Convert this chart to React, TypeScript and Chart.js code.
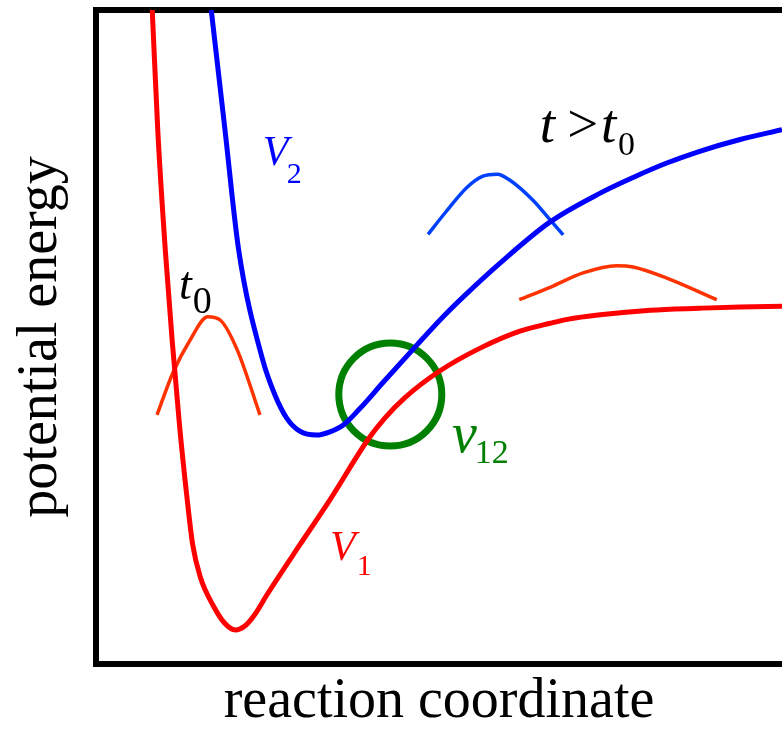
import React, { useEffect, useRef } from "react";
import { Chart, registerables } from "chart.js";

Chart.register(...registerables);

const SERIF = '"Liberation Serif", "Times New Roman", Times, "DejaVu Serif", serif';

// Potential curve V1 (ground state, red)
const v1X = [8.2, 9.0, 10.1, 11.1, 12.2, 13.3, 14.1, 15.2, 17.1, 18.7, 20.3, 21.7, 23.2, 24.9, 29.7, 34.1, 39.7, 42.1, 45.0, 50.1, 56.0, 61.8, 66.2, 68.7, 73.5, 80.8, 88.0, 93.9, 100];
const v1Y = [100, 81.7, 63.3, 49.5, 36.2, 25.1, 18.2, 13.3, 8.9, 6.3, 5.2, 5.8, 7.65, 10.55, 18.2, 25.1, 34.4, 37.6, 40.7, 44.8, 48.3, 50.9, 52.1, 52.7, 53.4, 54.1, 54.4, 54.6, 54.7];

// Potential curve V2 (excited state, blue)
const v2X = [16.8, 18.8, 20.8, 24.3, 26.1, 27.8, 29.7, 32.2, 34.1, 36.0, 38.5, 41.8, 46.8, 50.6, 53.5, 58.9, 66.2, 73.5, 78.3, 83.2, 88.0, 93.9, 100];
const v2Y = [100, 81.7, 63.3, 46.5, 41.1, 37.6, 35.6, 35.0, 35.5, 36.5, 39.1, 43.0, 48.8, 53.1, 56.1, 61.3, 67.6, 72.0, 74.4, 76.6, 78.4, 80.2, 81.7];

// Wave packet at t0 (on V1)
const packet0X = [8.9, 11.2, 13.7, 16.3, 18.1, 20.6, 23.9];
const packet0Y = [38.1, 44.5, 49.5, 53.1, 52.6, 48.0, 38.1];

// Wave packet at t > t0 on V2
const packetBlueX = [48.4, 50.9, 54.1, 56.4, 58.5, 60.3, 63.7, 66.2, 68.1];
const packetBlueY = [65.7, 69.0, 72.9, 74.6, 74.9, 74.0, 70.9, 67.9, 65.6];

// Wave packet at t > t0 on V1
const packetRedX = [61.7, 66.2, 71.0, 75.9, 78.3, 83.2, 90.5];
const packetRedY = [55.7, 57.6, 59.8, 60.9, 60.7, 59.0, 55.7];

// Coupling region v12 (circle centre)
const couplingX = [42.9];
const couplingY = [41.2];

// Annotation texts and their anchor (left, baseline) in data units
const labelTexts = ["V", "2", "V", "1", "t", "0", "t", ">", "t", "0", "v", "12"];
const labelX = [24.3, 27.8, 34.1, 38.0, 12.1, 14.1, 64.7, 68.7, 73.6, 76.1, 51.9, 55.2];
const labelY = [76.3, 73.5, 15.9, 13.6, 55.8, 53.7, 79.8, 79.8, 79.8, 77.8, 32.4, 30.7];

const labelStyles = [
  { italic: true, size: 42, color: "#0000ff" },
  { italic: false, size: 30, color: "#0000ff" },
  { italic: true, size: 42, color: "#ff0000" },
  { italic: false, size: 30, color: "#ff0000" },
  { italic: true, size: 46, color: "#000000" },
  { italic: false, size: 38, color: "#000000" },
  { italic: true, size: 55, color: "#000000" },
  { italic: false, size: 55, color: "#000000" },
  { italic: true, size: 55, color: "#000000" },
  { italic: false, size: 34, color: "#000000" },
  { italic: true, size: 56, color: "#008000" },
  { italic: false, size: 34, color: "#008000" },
];

const zip = (xs: number[], ys: number[]) => xs.map((x, i) => ({ x, y: ys[i] }));

const labelPlugin = {
  id: "labels",
  afterDatasetsDraw(chart: any) {
    const { ctx, scales } = chart;
    ctx.save();
    ctx.textAlign = "left";
    ctx.textBaseline = "alphabetic";
    labelTexts.forEach((t, i) => {
      const st = labelStyles[i];
      ctx.font = `${st.italic ? "italic " : ""}${st.size}px ${SERIF}`;
      ctx.fillStyle = st.color;
      ctx.fillText(t, scales.x.getPixelForValue(labelX[i]), scales.y.getPixelForValue(labelY[i]));
    });
    ctx.restore();
  },
};

export default function App() {
  const ref = useRef<HTMLCanvasElement | null>(null);

  useEffect(() => {
    document.body.style.margin = "0";
    const canvas = ref.current;
    if (!canvas) return;
    const lineCommon = {
      pointRadius: 0,
      fill: false,
      cubicInterpolationMode: "monotone" as const,
    };
    const axisCommon = {
      type: "linear" as const,
      min: 0,
      max: 100,
      z: 1,
      grid: { display: false, drawTicks: false },
      ticks: { display: false },
      border: { display: true, color: "#000000", width: 6 },
    };
    const chart = new Chart(canvas, {
      type: "line",
      data: {
        datasets: [
          { ...lineCommon, label: "V1", data: zip(v1X, v1Y), borderColor: "#ff0000", borderWidth: 5 },
          { ...lineCommon, label: "V2", data: zip(v2X, v2Y), borderColor: "#0000ff", borderWidth: 5 },
          { ...lineCommon, label: "t0 packet", data: zip(packet0X, packet0Y), borderColor: "#ff3300", borderWidth: 3.5 },
          { ...lineCommon, label: "packet V2", data: zip(packetBlueX, packetBlueY), borderColor: "#0040ff", borderWidth: 3.5 },
          { ...lineCommon, label: "packet V1", data: zip(packetRedX, packetRedY), borderColor: "#ff3300", borderWidth: 3.5 },
          {
            label: "v12",
            data: zip(couplingX, couplingY),
            showLine: false,
            pointRadius: 51.5,
            pointBorderWidth: 7,
            pointBorderColor: "#008000",
            pointBackgroundColor: "rgba(0,0,0,0)",
            borderColor: "#008000",
            backgroundColor: "rgba(0,0,0,0)",
            clip: false,
          } as any,
        ],
      },
      options: {
        animation: false,
        responsive: false,
        devicePixelRatio: 1,
        layout: { autoPadding: false, padding: { top: 10, right: 0, bottom: 0, left: 0 } },
        plugins: { legend: { display: false }, tooltip: { enabled: false } },
        scales: {
          x: {
            ...axisCommon,
            position: "bottom",
            title: {
              display: true,
              text: "reaction coordinate",
              color: "#000000",
              font: { family: SERIF, size: 56, lineHeight: 1 },
              padding: { top: 10, bottom: 0 },
            },
          },
          x2: {
            ...axisCommon,
            position: "top",
          },
          y: {
            ...axisCommon,
            position: "left",
            title: {
              display: true,
              text: "potential energy",
              color: "#000000",
              font: { family: SERIF, size: 56, lineHeight: 1 },
              padding: { top: 13, bottom: 27 },
            },
          },
        },
      },
      plugins: [labelPlugin],
    });
    return () => chart.destroy();
  }, []);

  return (
    <div style={{ width: 782, height: 730 }}>
      <canvas ref={ref} width={782} height={730} style={{ display: "block" }} />
    </div>
  );
}
